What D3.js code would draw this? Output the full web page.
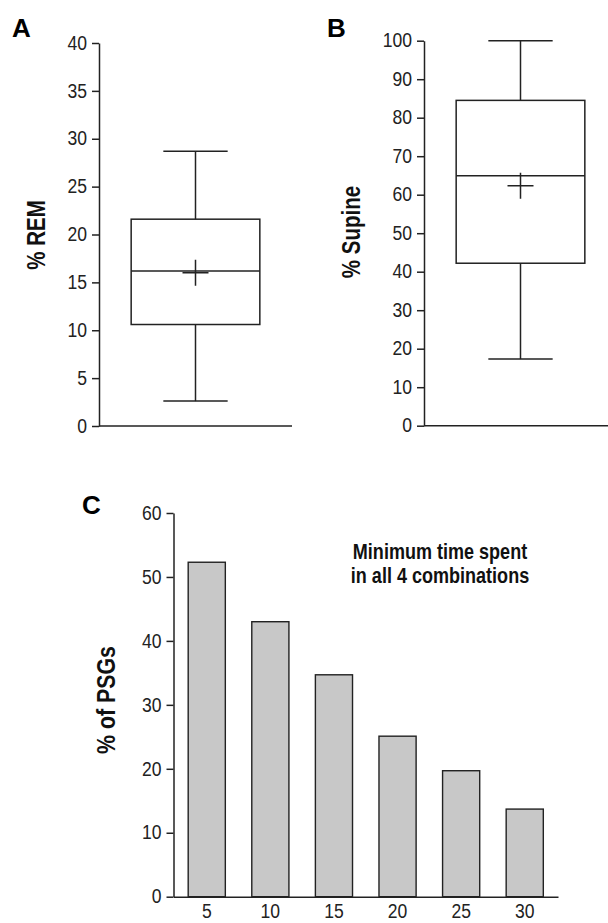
<!DOCTYPE html>
<html>
<head>
<meta charset="utf-8">
<script src="https://cdn.jsdelivr.net/npm/d3@7"></script>
<style>
	body { margin: 0; background: #fff; }
	svg { display: block; }
</style>
</head>
<body>
<svg id="chart"></svg>
<script>
// box stats: min, q1, median, q3, max, mean
var remValues = [2.6, 10.6, 16.2, 21.6, 28.7, 16.0];
var supineValues = [17.3, 42.2, 64.9, 84.5, 100, 62.3];
var remTicks = [0, 5, 10, 15, 20, 25, 30, 35, 40];
var supineTicks = [0, 10, 20, 30, 40, 50, 60, 70, 80, 90, 100];

var minuteLabels = ["5", "10", "15", "20", "25", "30"];
var psgPercent = [52.3, 43.0, 34.7, 25.1, 19.7, 13.7];
var psgTicks = [0, 10, 20, 30, 40, 50, 60];
var noteLines = ["Minimum time spent", "in all 4 combinations"];

var ink = "#222";
var font = "'Liberation Sans', Arial, sans-serif";
var squeeze = 0.82; // no narrow face installed, so condense the bold labels by hand
var tickSqueeze = 0.9;

var svg = d3.select("#chart").attr("width", 608).attr("height", 923);

function styleAxis(g) {
	g.selectAll("path, line").attr("stroke", ink).attr("stroke-width", 1.5);
	g.selectAll("text")
		.attr("fill", ink)
		.style("font-family", font).style("font-size", "19.5px")
		.attr("x", function() { return (+d3.select(this).attr("x") || 0) / tickSqueeze; })
		.attr("transform", "scale(" + tickSqueeze + ",1)");
}

function panelLetter(text, x, y) {
	svg.append("text")
		.attr("x", x).attr("y", y)
		.style("font-family", font).style("font-weight", "bold").style("font-size", "26px")
		.attr("fill", "#000")
		.text(text);
}

function yLabel(text, x, y, size) {
	svg.append("text")
		.attr("transform", "translate(" + x + "," + y + ") rotate(-90) scale(" + squeeze + ",1)")
		.attr("text-anchor", "middle")
		.style("font-family", font).style("font-weight", "bold").style("font-size", size + "px")
		.attr("fill", "#111")
		.text(text);
}

function boxPlot(values, ticks, xRange, yRange) {
	var yScale = d3.scaleLinear().domain([ticks[0], ticks[ticks.length - 1]]).range(yRange);
	var xScale = d3.scaleBand().domain(["all"]).range(xRange).paddingInner(0).paddingOuter(0.25);
	var g = svg.append("g");

	var yAxis = d3.axisLeft(yScale).tickValues(ticks).tickSize(7).tickSizeOuter(0).tickPadding(5);
	g.append("g").attr("transform", "translate(" + xRange[0] + ",0)").call(yAxis).call(styleAxis);

	g.append("line")
		.attr("x1", xRange[0]).attr("x2", xRange[1])
		.attr("y1", yScale(0)).attr("y2", yScale(0))
		.attr("stroke", ink).attr("stroke-width", 1.5);

	var left = xScale("all");
	var bw = xScale.bandwidth();
	var cx = left + bw / 2;

	// whiskers
	[[values[0], values[1]], [values[3], values[4]]].forEach(function(w) {
		g.append("line")
			.attr("x1", cx).attr("x2", cx)
			.attr("y1", yScale(w[0])).attr("y2", yScale(w[1]))
			.attr("stroke", ink).attr("stroke-width", 1.5);
	});
	[values[0], values[4]].forEach(function(v) {
		g.append("line")
			.attr("x1", cx - bw / 4).attr("x2", cx + bw / 4)
			.attr("y1", yScale(v)).attr("y2", yScale(v))
			.attr("stroke", ink).attr("stroke-width", 1.5);
	});

	g.append("rect")
		.attr("x", left).attr("width", bw)
		.attr("y", yScale(values[3])).attr("height", yScale(values[1]) - yScale(values[3]))
		.attr("fill", "none").attr("stroke", ink).attr("stroke-width", 1.5);

	g.append("line")
		.attr("x1", left).attr("x2", left + bw)
		.attr("y1", yScale(values[2])).attr("y2", yScale(values[2]))
		.attr("stroke", ink).attr("stroke-width", 1.5);

	// mean marker
	g.append("path")
		.attr("transform", "translate(" + cx + "," + yScale(values[5]) + ")")
		.attr("d", "M-13,0H13M0,-13V13")
		.attr("stroke", ink).attr("stroke-width", 1.5).attr("fill", "none");
}

// Panel A
panelLetter("A", 12, 37);
boxPlot(remValues, remTicks, [99, 292], [426, 43]);
yLabel("% REM", 45, 235, 25);

// Panel B
panelLetter("B", 327, 37);
boxPlot(supineValues, supineTicks, [424, 617], [425.7, 40.7]);
yLabel("% Supine", 360, 232, 25);

// Panel C
panelLetter("C", 82, 514);
var cY = d3.scaleLinear().domain([0, 60]).range([896.7, 513]);
var cX = d3.scaleBand().domain(minuteLabels).range([173.5, 558]).paddingInner(0.416).paddingOuter(0.231);
var cg = svg.append("g");

cg.selectAll(".bar")
	.data(psgPercent)
	.enter()
	.append("rect")
	.attr("class", "bar")
	.attr("x", function(d, i) { return cX(minuteLabels[i]); })
	.attr("width", cX.bandwidth())
	.attr("y", function(d) { return cY(d); })
	.attr("height", function(d) { return cY(0) - cY(d); })
	.attr("fill", "#c8c8c8")
	.attr("stroke", ink)
	.attr("stroke-width", 1.4);

cg.append("g").attr("transform", "translate(173.5,0)")
	.call(d3.axisLeft(cY).tickValues(psgTicks).tickSize(7).tickSizeOuter(0).tickPadding(5))
	.call(styleAxis);

cg.append("g").attr("transform", "translate(0," + cY(0) + ")")
	.call(d3.axisBottom(cX).tickSize(0).tickSizeOuter(0).tickPadding(7))
	.call(styleAxis);

yLabel("% of PSGs", 115, 700, 26);

svg.append("g")
	.attr("transform", "translate(440,0) scale(" + squeeze + ",1)")
	.append("text")
	.attr("text-anchor", "middle")
	.style("font-family", font).style("font-weight", "bold").style("font-size", "22px")
	.attr("fill", "#111")
	.selectAll("tspan")
	.data(noteLines)
	.enter()
	.append("tspan")
	.attr("x", 0)
	.attr("y", function(d, i) { return 559 + i * 24; })
	.text(function(d) { return d; });
</script>
</body>
</html>
